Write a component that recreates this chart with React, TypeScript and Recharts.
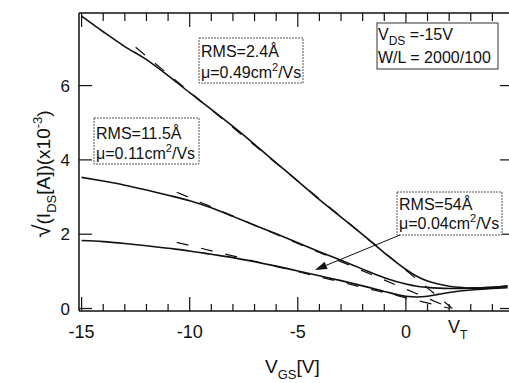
import { LineChart, Line, XAxis, YAxis } from 'recharts';

// gate voltage samples (V)
const vgs = [-15, -14, -13, -12, -11, -10, -9, -8, -7, -6, -5, -4, -3, -2, -1, 0, 0.5, 1, 1.5, 2, 2.5, 3, 3.5, 4, 4.7];

// sqrt(Ids) x10^-3 for each roughness
const rms24 = [7.87, 7.45, 7.05, 6.7, 6.27, 5.81, 5.36, 4.9, 4.42, 3.92, 3.43, 2.93, 2.46, 1.99, 1.5, 1.05, 0.87, 0.74, 0.66, 0.6, 0.57, 0.55, 0.55, 0.57, 0.61];
const rms115 = [3.53, 3.43, 3.32, 3.19, 3.05, 2.9, 2.71, 2.48, 2.24, 2.01, 1.77, 1.53, 1.3, 1.06, 0.83, 0.66, 0.6, 0.57, 0.55, 0.54, 0.54, 0.55, 0.56, 0.57, 0.59];
const rms54 = [1.83, 1.8, 1.75, 1.69, 1.62, 1.55, 1.46, 1.37, 1.26, 1.14, 1.01, 0.88, 0.75, 0.61, 0.46, 0.33, 0.31, 0.33, 0.38, 0.43, 0.47, 0.5, 0.52, 0.54, 0.56];

// linear fits extrapolated to V_T
const fitTopX = [-12.5, 2.15];
const fitTopY = [7.03, 0];
const fitMidX = [-10.6, 2.12];
const fitMidY = [3.13, 0];
const fitBotX = [-10.6, 2.05];
const fitBotY = [1.78, 0];

const xTicks = [-15, -14, -13, -12, -11, -10, -9, -8, -7, -6, -5, -4, -3, -2, -1, 0, 1, 2, 3, 4, 5];
const xLabels = [-15, -10, -5, 0];
const yTicks = [0, 2, 4, 6];

const rows = vgs.map((x, i) => ({ x, a: rms24[i], b: rms115[i], c: rms54[i] }));
const toPts = (xs: number[], ys: number[]) => xs.map((x, i) => ({ x, y: ys[i] }));

const FONT = '"Liberation Sans", Arial, sans-serif';
const INK = '#111';

function BottomTick({ x, y, payload }: any) {
  const v = payload.value;
  const major = v % 5 === 0;
  return (
    <g>
      <line x1={x} x2={x} y1={y} y2={y - (major ? 14 : 7)} stroke={INK} strokeWidth={1.2} />
      {xLabels.includes(v) && (
        <text x={x} y={y + 27} textAnchor="middle" fontSize={18} fontFamily={FONT} fill={INK}>
          {v}
        </text>
      )}
    </g>
  );
}

function TopTick({ x, y, payload }: any) {
  const major = payload.value % 5 === 0;
  return <line x1={x} x2={x} y1={y} y2={y + (major ? 14 : 8)} stroke={INK} strokeWidth={1.2} />;
}

function LeftTick({ x, y, payload }: any) {
  return (
    <g>
      <line x1={x} x2={x + 13} y1={y} y2={y} stroke={INK} strokeWidth={1.2} />
      <text x={x - 9} y={y + 6} textAnchor="end" fontSize={17} fontFamily={FONT} fill={INK}>
        {payload.value}
      </text>
    </g>
  );
}

function RightTick({ x, y }: any) {
  return <line x1={x} x2={x - 14} y1={y} y2={y} stroke={INK} strokeWidth={1.2} />;
}

function Annotations() {
  const t = { fontSize: 16, fontFamily: FONT, fill: INK };
  return (
    <svg width={509} height={383} style={{ position: 'absolute', left: 0, top: 0, pointerEvents: 'none' }}>
      <rect x={199} y={38} width={104} height={45} fill="#fff" stroke="#555" strokeDasharray="2 1" />
      <text x={201} y={57} {...t}>RMS=2.4Å</text>
      <text x={201} y={78} {...t}>
        μ=0.49cm<tspan dy={-7} fontSize={11}>2</tspan><tspan dy={7}>/Vs</tspan>
      </text>

      <rect x={94} y={118} width={105} height={46} fill="#fff" stroke="#555" strokeDasharray="2 1" />
      <text x={96} y={139} {...t}>RMS=11.5Å</text>
      <text x={96} y={159} {...t}>
        μ=0.11cm<tspan dy={-7} fontSize={11}>2</tspan><tspan dy={7}>/Vs</tspan>
      </text>

      <rect x={377} y={23} width={121} height={46} fill="#fff" stroke="#333" />
      <text x={378} y={40} {...t}>
        V<tspan dy={5} fontSize={12}>DS</tspan><tspan dy={-5}> =-15V</tspan>
      </text>
      <text x={378} y={63} {...t}>W/L = 2000/100</text>

      <rect x={397} y={192} width={105} height={43} fill="#fff" stroke="#555" strokeDasharray="2 1" />
      <text x={399} y={210} {...t}>RMS=54Å</text>
      <text x={399} y={229} {...t}>
        μ=0.04cm<tspan dy={-7} fontSize={11}>2</tspan><tspan dy={7}>/Vs</tspan>
      </text>

      <line x1={400} y1={235} x2={326} y2={265.4} stroke={INK} strokeWidth={1} />
      <polygon points="315,270 327.6,269.1 324.6,261.7" fill={INK} />

      <text x={448} y={333} fontSize={18} fontFamily={FONT} fill={INK}>
        V<tspan dy={6} fontSize={12}>T</tspan>
      </text>

      <text x={265} y={373} fontSize={19} fontFamily={FONT} fill={INK}>
        V<tspan dy={6} fontSize={13}>GS</tspan><tspan dy={-6}>[V]</tspan>
      </text>

      <text transform="rotate(-90)" x={-174} y={50} textAnchor="middle" fontSize={19} fontFamily={FONT} fill={INK}>
        <tspan fontSize={24}>√</tspan>(I<tspan dy={6} fontSize={13}>DS</tspan>
        <tspan dy={-6}>[A])(x10</tspan><tspan dy={-8} fontSize={13}>-3</tspan><tspan dy={8}>)</tspan>
      </text>
    </svg>
  );
}

export default function App() {
  const axisLine = { stroke: INK, strokeWidth: 1.5 };
  return (
    <div style={{ position: 'fixed', left: 0, top: 0, width: 509, height: 383, overflow: 'hidden', background: '#fff' }}>
      <LineChart width={520} height={383} data={rows} margin={{ top: 0, right: 0, bottom: 42, left: 0 }}>
        <XAxis
          dataKey="x"
          type="number"
          domain={[-15.12, 5]}
          allowDataOverflow
          ticks={xTicks}
          interval={0}
          height={30}
          tickSize={0}
          tickMargin={0}
          tickLine={false}
          axisLine={axisLine}
          tick={<BottomTick />}
        />
        <XAxis
          xAxisId="top"
          orientation="top"
          dataKey="x"
          type="number"
          domain={[-15.12, 5]}
          allowDataOverflow
          ticks={xTicks}
          interval={0}
          height={13}
          tickSize={0}
          tickMargin={0}
          tickLine={false}
          axisLine={axisLine}
          tick={<TopTick />}
        />
        <YAxis
          type="number"
          domain={[-0.067, 7.954]}
          allowDataOverflow
          ticks={yTicks}
          interval={0}
          width={79}
          tickSize={0}
          tickMargin={0}
          tickLine={false}
          axisLine={axisLine}
          tick={<LeftTick />}
        />
        <YAxis
          yAxisId="right"
          orientation="right"
          type="number"
          domain={[-0.067, 7.954]}
          allowDataOverflow
          ticks={yTicks}
          interval={0}
          width={6}
          tickSize={0}
          tickMargin={0}
          tickLine={false}
          axisLine={axisLine}
          tick={<RightTick />}
        />
        <Line data={toPts(fitTopX, fitTopY)} dataKey="y" type="linear" stroke={INK} strokeWidth={1.2} strokeDasharray="12 13" dot={false} isAnimationActive={false} />
        <Line data={toPts(fitMidX, fitMidY)} dataKey="y" type="linear" stroke={INK} strokeWidth={1.2} strokeDasharray="12 13" dot={false} isAnimationActive={false} />
        <Line data={toPts(fitBotX, fitBotY)} dataKey="y" type="linear" stroke={INK} strokeWidth={1.2} strokeDasharray="12 13" dot={false} isAnimationActive={false} />
        <Line dataKey="a" type="monotone" stroke={INK} strokeWidth={1.6} dot={false} isAnimationActive={false} />
        <Line dataKey="b" type="monotone" stroke={INK} strokeWidth={1.6} dot={false} isAnimationActive={false} />
        <Line dataKey="c" type="monotone" stroke={INK} strokeWidth={1.6} dot={false} isAnimationActive={false} />
      </LineChart>
      <Annotations />
    </div>
  );
}
